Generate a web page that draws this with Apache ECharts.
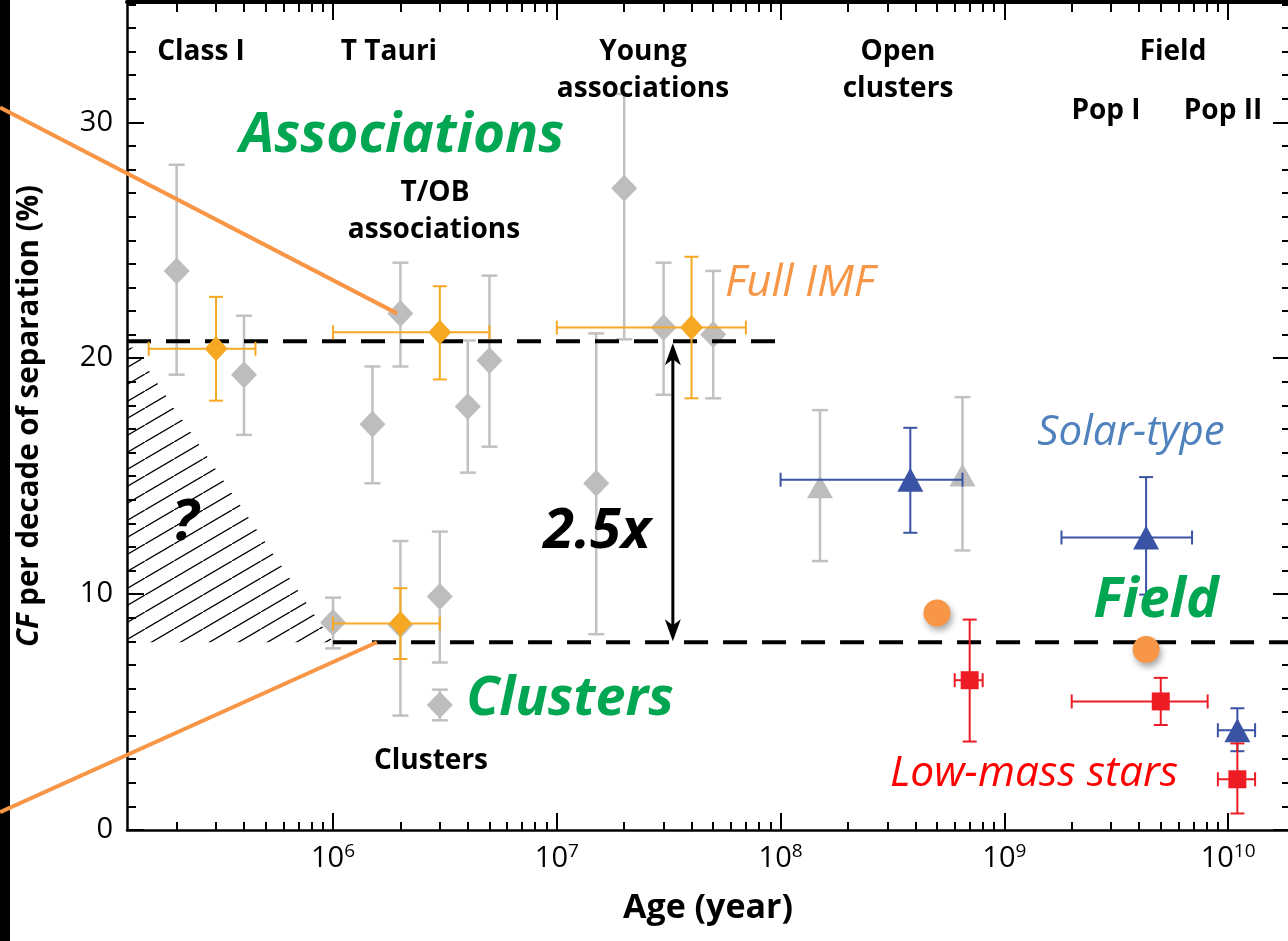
<!DOCTYPE html>
<html>
<head>
<meta charset="utf-8">
<title>Companion fraction vs age</title>
<script src="https://cdn.jsdelivr.net/npm/echarts@6/dist/echarts.min.js"></script>
<style>
  html, body { margin: 0; padding: 0; background: #fff; }
  #chart { width: 1288px; height: 941px; }
</style>
</head>
<body>
<div id="chart"></div>
<script>
// ---- Axis ranges and ticks -------------------------------------------------
const X_MIN = 1.2e5;
const X_MAX = 1.91e10;
const Y_MAX = 35.1;
const X_MAJOR_TICKS = [1e6, 1e7, 1e8, 1e9, 1e10];
const Y_MAJOR_TICKS = [0, 10, 20, 30];

// ---- Individual surveys (grey): age [yr], CF [%], CF error range ------------
const greyDiamondAge = [2e5, 4e5, 1.5e6, 2e6, 4e6, 5e6, 1.5e7, 2e7, 3e7, 5e7, 1e6, 2e6, 3e6, 3e6];
const greyDiamondCF  = [23.7, 19.3, 17.2, 21.9, 17.95, 19.9, 14.7, 27.2, 21.3, 21.0, 8.8, 8.7, 9.9, 5.3];
const greyDiamondLo  = [19.3, 16.75, 14.7, 19.65, 15.15, 16.25, 8.3, 20.8, 18.45, 18.3, 7.7, 4.85, 7.1, 4.65];
const greyDiamondHi  = [28.2, 21.8, 19.65, 24.05, 20.75, 23.5, 21.05, 31.2, 24.05, 23.7, 9.85, 12.25, 12.65, 5.95];

const greyTriangleAge = [1.5e8, 6.5e8];
const greyTriangleCF  = [14.55, 15.05];
const greyTriangleLo  = [11.4, 11.85];
const greyTriangleHi  = [17.8, 18.35];

// ---- Averages per environment (full IMF, orange) ---------------------------
const imfAge   = [3e5, 3e6, 4e7, 2e6];
const imfAgeLo = [1.5e5, 1e6, 1e7, 1e6];
const imfAgeHi = [4.5e5, 5e6, 7e7, 3e6];
const imfCF    = [20.4, 21.1, 21.3, 8.75];
const imfLo    = [18.2, 19.1, 18.3, 7.25];
const imfHi    = [22.6, 23.05, 24.3, 10.25];

// ---- Solar-type stars (blue) ------------------------------------------------
const solarAge   = [3.8e8, 4.3e9, 1.1e10];
const solarAgeLo = [1e8, 1.8e9, 9e9];
const solarAgeHi = [6.5e8, 6.9e9, 1.32e10];
const solarCF    = [14.85, 12.4, 4.23];
const solarLo    = [12.6, 9.98, 3.34];
const solarHi    = [17.05, 14.96, 5.16];

// ---- Low-mass stars (red) ---------------------------------------------------
const lowMassAge   = [7e8, 5e9, 1.1e10];
const lowMassAgeLo = [6e8, 2e9, 9e9];
const lowMassAgeHi = [8e8, 8.1e9, 1.32e10];
const lowMassCF    = [6.35, 5.45, 2.15];
const lowMassLo    = [3.75, 4.45, 0.7];
const lowMassHi    = [8.92, 6.45, 3.67];

// ---- Field, full IMF (orange discs) ----------------------------------------
const fieldImfAge = [5e8, 4.3e9];
const fieldImfCF  = [9.2, 7.65];

// ---- Reference levels -------------------------------------------------------
const ASSOC_LEVEL = 20.72;
const ASSOC_END_AGE = 1e8;
const FIELD_LEVEL = 7.96;
const FIELD_START_AGE = 1e6;
const ARROW_AGE = 3.3e7;

// Unconstrained zone at early ages (hatched)
const hatchAge = [X_MIN, 1.28e5, 1e6, X_MIN];
const hatchCF  = [20.45, 20.45, 7.96, 7.96];

// Connector lines towards the neighbouring panel
const connectorUpperAge = [3.25e4, 1.93e6];
const connectorUpperCF  = [30.63, 21.9];
const connectorLowerAge = [3.25e4, 1.57e6];
const connectorLowerCF  = [0.76, 7.96];

// ---- Styling ----------------------------------------------------------------
const FONT = "'Open Sans', 'Noto Sans', sans-serif";
const GREY = '#c1c1c1';
const ORANGE = '#f7a823';
const ORANGE_LIGHT = '#f79646';
const BLUE = '#3a53a4';
const RED = '#ed1c24';
const GREEN = '#00a651';

// minor ticks: 2..9 x 10^n within range
const X_MINOR_TICKS = [];
for (let e = 5; e <= 10; e++) {
  for (let m = 2; m <= 9; m++) {
    const v = m * Math.pow(10, e);
    if (v > X_MIN && v < X_MAX) X_MINOR_TICKS.push(v);
  }
}
const Y_MINOR_TICKS = [];
for (let v = 1; v <= 35; v++) if (v % 10 !== 0) Y_MINOR_TICKS.push(v);

// rows: [age, cf, cfLo, cfHi, ageLo, ageHi]
function rows(age, cf, lo, hi, ageLo, ageHi) {
  return age.map((a, i) => [a, cf[i], lo[i], hi[i],
    ageLo ? ageLo[i] : a, ageHi ? ageHi[i] : a]);
}
function pts(age, cf) { return age.map((a, i) => [a, cf[i]]); }

function errorBars(color, width, cap) {
  return function (params, api) {
    const x = api.value(0), y = api.value(1);
    const c = api.coord([x, y]);
    const lo = api.coord([x, api.value(2)]);
    const hi = api.coord([x, api.value(3)]);
    const style = { stroke: color, lineWidth: width, fill: null };
    const children = [
      { type: 'line', shape: { x1: c[0], y1: lo[1], x2: c[0], y2: hi[1] }, style },
      { type: 'line', shape: { x1: c[0] - cap, y1: lo[1], x2: c[0] + cap, y2: lo[1] }, style },
      { type: 'line', shape: { x1: c[0] - cap, y1: hi[1], x2: c[0] + cap, y2: hi[1] }, style }
    ];
    const xl = api.value(4), xh = api.value(5);
    if (xl !== xh) {
      const l = api.coord([xl, y]);
      const h = api.coord([xh, y]);
      children.push(
        { type: 'line', shape: { x1: l[0], y1: c[1], x2: h[0], y2: c[1] }, style },
        { type: 'line', shape: { x1: l[0], y1: c[1] - cap, x2: l[0], y2: c[1] + cap }, style },
        { type: 'line', shape: { x1: h[0], y1: c[1] - cap, x2: h[0], y2: c[1] + cap }, style }
      );
    }
    return { type: 'group', children };
  };
}

function barSeries(data, color, width, cap, z) {
  return {
    type: 'custom', coordinateSystem: 'cartesian2d', xAxisIndex: 0, yAxisIndex: 0,
    data, renderItem: errorBars(color, width, cap), silent: true, z,
    encode: { x: 0, y: 1 }
  };
}
function markerSeries(data, symbol, size, color, z, itemExtra) {
  return {
    type: 'scatter', xAxisIndex: 0, yAxisIndex: 0, data, symbol, symbolSize: size,
    itemStyle: Object.assign({ color, opacity: 1 }, itemExtra || {}), silent: true, z
  };
}
function dashed(data, z) {
  return {
    type: 'line', xAxisIndex: 0, yAxisIndex: 0, data, showSymbol: false, symbol: 'none',
    lineStyle: { color: '#000', width: 4, type: [24, 15] }, silent: true, z
  };
}
// straight segment drawn through the axes, allowed to run past the frame
function connector(age, cf, z) {
  return {
    type: 'custom', coordinateSystem: 'cartesian2d', xAxisIndex: 0, yAxisIndex: 0,
    silent: true, z, clip: false,
    data: [[age[0], cf[0], age[1], cf[1]]],
    renderItem: function (params, api) {
      const a = api.coord([api.value(0), api.value(1)]);
      const b = api.coord([api.value(2), api.value(3)]);
      return {
        type: 'line', shape: { x1: a[0], y1: a[1], x2: b[0], y2: b[1] },
        style: { stroke: ORANGE_LIGHT, lineWidth: 4 }
      };
    }
  };
}

// hatch tile: thin diagonal strokes rising to the right
const tile = document.createElement('canvas');
tile.width = 29; tile.height = 17;
(function () {
  const g = tile.getContext('2d');
  g.strokeStyle = '#000';
  g.lineWidth = 1.3;
  g.beginPath();
  g.moveTo(-29, 34); g.lineTo(58, -17);
  g.stroke();
})();

const chart = echarts.init(document.getElementById('chart'), null, { renderer: 'canvas' });

function xAxisDef(position, ticks, length, withLine, withLabels) {
  return {
    type: 'log', logBase: 10, min: X_MIN, max: X_MAX, position, gridIndex: 0,
    axisLine: withLine
      ? { show: true, onZero: false, lineStyle: { color: '#000', width: position === 'top' ? 4 : 2.5 } }
      : { show: false, onZero: false },
    axisTick: { show: true, inside: true, length, customValues: ticks,
      lineStyle: { color: '#000', width: 2 } },
    axisLabel: withLabels ? {
      show: true, customValues: ticks, margin: 12, color: '#000',
      formatter: v => '{b|10}{s|' + Math.round(Math.log10(v)) + '}',
      rich: {
        b: { fontSize: 29, fontFamily: FONT, color: '#000', lineHeight: 34 },
        s: { fontSize: 19, fontFamily: FONT, color: '#000', verticalAlign: 'top', lineHeight: 18 }
      }
    } : { show: false },
    splitLine: { show: false }, minorTick: { show: false }
  };
}
function yAxisDef(position, ticks, length, withLine, withLabels) {
  return {
    type: 'value', min: 0, max: Y_MAX, position, gridIndex: 0,
    axisLine: withLine
      ? { show: true, onZero: false, lineStyle: { color: '#000', width: 2.5 } }
      : { show: false, onZero: false },
    axisTick: { show: true, inside: true, length, customValues: ticks,
      lineStyle: { color: '#000', width: 2 } },
    axisLabel: withLabels ? {
      show: true, customValues: ticks, margin: 14, color: '#000',
      fontSize: 29, fontFamily: FONT
    } : { show: false },
    splitLine: { show: false }, minorTick: { show: false }
  };
}

function txt(text, x, y, size, opts) {
  const o = opts || {};
  return {
    type: 'text', x, y, z: 50, silent: true, rotation: o.rotation || 0,
    style: {
      text, fill: o.color || '#000',
      fontSize: size, fontFamily: FONT,
      fontWeight: o.weight || 'bold', fontStyle: o.style || 'normal',
      align: 'center', verticalAlign: 'middle',
      rich: o.rich
    }
  };
}

const option = {
  animation: false,
  backgroundColor: '#fff',
  grid: { left: 127, right: -3, top: 2, bottom: 111, containLabel: false, outerBoundsMode: 'none' },
  xAxis: [
    xAxisDef('bottom', X_MAJOR_TICKS, 17, true, true),
    xAxisDef('bottom', X_MINOR_TICKS, 8, false, false),
    xAxisDef('top', X_MAJOR_TICKS, 18, true, false),
    xAxisDef('top', X_MINOR_TICKS, 10, false, false)
  ],
  yAxis: [
    yAxisDef('left', Y_MAJOR_TICKS, 17, true, true),
    yAxisDef('left', Y_MINOR_TICKS, 9, false, false),
    yAxisDef('right', Y_MAJOR_TICKS, 18, true, false),
    yAxisDef('right', Y_MINOR_TICKS, 9, false, false)
  ],
  graphic: [
    { type: 'rect', shape: { x: 0, y: 0, width: 10, height: 941 }, style: { fill: '#000' }, z: 0, silent: true },
    // stage headers
    txt('Class I', 201, 52, 28),
    txt('T Tauri', 389, 52, 28),
    txt('Young', 643, 52, 28),
    txt('associations', 643, 89, 28),
    txt('Open', 898, 52, 28),
    txt('clusters', 898, 89, 28),
    txt('Field', 1173, 52, 28),
    txt('Pop I', 1106, 111, 28),
    txt('Pop II', 1223, 111, 28),
    txt('T/OB', 435, 193, 28),
    txt('associations', 434, 230, 28),
    txt('Clusters', 431, 761, 28),
    // environment labels
    txt('Associations', 402, 136, 55, { color: GREEN, style: 'italic' }),
    txt('Clusters', 570, 700, 54, { color: GREEN, style: 'italic' }),
    txt('Field', 1156, 601, 55, { color: GREEN, style: 'italic' }),
    txt('2.5x', 597, 532, 56, { style: 'italic' }),
    txt('?', 185, 523, 58, { style: 'italic' }),
    txt('Full IMF', 800, 283, 44, { color: ORANGE_LIGHT, style: 'italic', weight: 'normal' }),
    txt('Solar-type', 1131, 433, 42, { color: '#4f81bd', style: 'italic', weight: 'normal' }),
    txt('Low-mass stars', 1034, 774, 42.5, { color: '#ff0000', style: 'italic', weight: 'normal' }),
    // axis titles
    txt('Age (year)', 708, 908, 34),
    txt('{i|CF} per decade of separation (%)', 30, 416, 29.5, {
      rotation: Math.PI / 2,
      rich: { i: { fontSize: 29.5, fontFamily: FONT, fontWeight: 'bold', fontStyle: 'italic', fill: '#000', color: '#000' } }
    })
  ],
  series: [
    {
      type: 'custom', coordinateSystem: 'cartesian2d', xAxisIndex: 0, yAxisIndex: 0, silent: true, z: 1,
      data: [[hatchAge[0], hatchCF[0]]],
      renderItem: function (params, api) {
        const points = hatchAge.map((a, i) => api.coord([a, hatchCF[i]]));
        return {
          type: 'polygon', shape: { points },
          style: { fill: { image: tile, repeat: 'repeat' }, stroke: null }
        };
      }
    },
    barSeries(rows(greyDiamondAge, greyDiamondCF, greyDiamondLo, greyDiamondHi), GREY, 2.5, 8, 2),
    barSeries(rows(greyTriangleAge, greyTriangleCF, greyTriangleLo, greyTriangleHi), GREY, 2.5, 8, 2),
    markerSeries(pts(greyDiamondAge, greyDiamondCF), 'diamond', [26, 27], '#bdbdbd', 3),
    markerSeries(pts(greyTriangleAge, greyTriangleCF), 'triangle', [26, 23], '#bdbdbd', 3),
    dashed([[X_MIN, ASSOC_LEVEL], [ASSOC_END_AGE, ASSOC_LEVEL]], 4),
    dashed([[FIELD_START_AGE, FIELD_LEVEL], [X_MAX, FIELD_LEVEL]], 4),
    barSeries(rows(imfAge, imfCF, imfLo, imfHi, imfAgeLo, imfAgeHi), ORANGE, 2, 7, 5),
    markerSeries(pts(imfAge, imfCF), 'diamond', [23, 25], ORANGE, 6),
    barSeries(rows(solarAge, solarCF, solarLo, solarHi, solarAgeLo, solarAgeHi), BLUE, 2, 7, 7),
    markerSeries(pts(solarAge, solarCF), 'triangle', [26, 24], BLUE, 8),
    barSeries(rows(lowMassAge, lowMassCF, lowMassLo, lowMassHi, lowMassAgeLo, lowMassAgeHi), RED, 2, 7, 9),
    markerSeries(pts(lowMassAge, lowMassCF), 'rect', 18, RED, 10),
    markerSeries(pts(fieldImfAge, fieldImfCF), 'circle', 27, ORANGE_LIGHT, 11, {
      shadowBlur: 6, shadowColor: 'rgba(0,0,0,0.35)', shadowOffsetX: 2, shadowOffsetY: 4
    }),
    {
      // factor-of-2.5 double arrow between the two levels
      type: 'custom', coordinateSystem: 'cartesian2d', xAxisIndex: 0, yAxisIndex: 0, silent: true, z: 12,
      data: [[ARROW_AGE, ASSOC_LEVEL, FIELD_LEVEL]],
      renderItem: function (params, api) {
        const top = api.coord([api.value(0), api.value(1)]);
        const bot = api.coord([api.value(0), api.value(2)]);
        const x = top[0], t = top[1] + 2, b = bot[1] - 1;
        const head = (tip, dir) => ({
          type: 'polygon',
          shape: { points: [[x, tip], [x - 8, tip + dir * 22], [x, tip + dir * 16], [x + 8, tip + dir * 22]] },
          style: { fill: '#000' }
        });
        return {
          type: 'group', children: [
            { type: 'line', shape: { x1: x, y1: t + 14, x2: x, y2: b - 14 }, style: { stroke: '#000', lineWidth: 3 } },
            head(t, 1), head(b, -1)
          ]
        };
      }
    },
    connector(connectorUpperAge, connectorUpperCF, 20),
    connector(connectorLowerAge, connectorLowerCF, 20)
  ]
};

chart.setOption(option);
</script>
</body>
</html>
